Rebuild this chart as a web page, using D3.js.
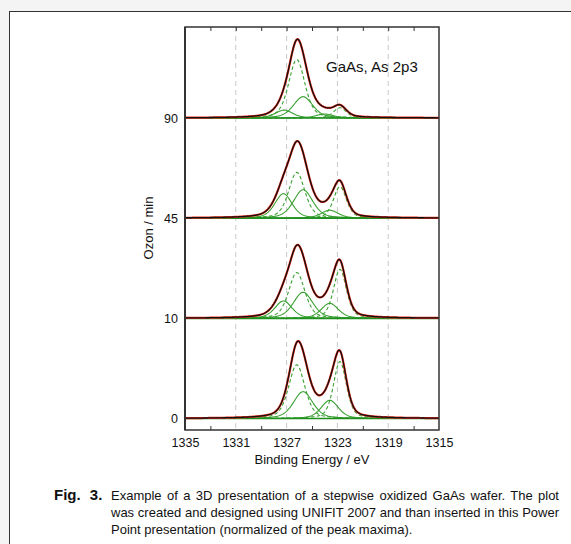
<!DOCTYPE html>
<html><head><meta charset="utf-8">
<script src="https://cdn.jsdelivr.net/npm/d3@7"></script>
<style>
html,body{margin:0;padding:0;background:#f4f4f4;}
svg{display:block;font-family:"Liberation Sans",Arial,sans-serif;}
</style></head>
<body>
<svg id="c" width="571" height="544"></svg>
<script>
// ---- data ----
const panels = ["0", "10", "45", "90"];            // ozone time / min
const xTicks = [1335, 1331, 1327, 1323, 1319, 1315]; // binding energy labels
const xMinor = [1333, 1329, 1325, 1321, 1317];
const xGrid  = [1331, 1327, 1323, 1319];
// component parameters per panel: centre (eV), height (normalised), FWHM (eV), dashed?
const comp0  = [[1326.2, 0.68, 1.5, 1], [1325.7, 0.34, 1.8, 0], [1323.6, 0.23, 1.6, 0], [1322.8, 0.72, 1.2, 1]];
const comp10 = [[1327.25, 0.22, 1.6, 0], [1326.2, 0.58, 1.5, 1], [1325.7, 0.33, 1.8, 0], [1323.6, 0.19, 1.6, 0], [1322.8, 0.62, 1.2, 1]];
const comp45 = [[1327.25, 0.31, 1.6, 0], [1326.2, 0.58, 1.5, 1], [1325.7, 0.36, 1.8, 0], [1323.6, 0.10, 1.6, 0], [1322.8, 0.40, 1.2, 1]];
const comp90 = [[1327.2, 0.10, 1.6, 0], [1326.2, 0.74, 1.5, 1], [1325.7, 0.27, 1.8, 0], [1324.0, 0.05, 1.6, 0], [1322.8, 0.13, 1.2, 1]];
const components = {"0": comp0, "10": comp10, "45": comp45, "90": comp90};
const lorentzFraction = 0.4;

// ---- layout ----
const svg = d3.select("#c");
svg.append("rect").attr("x", 9.5).attr("y", 11.5).attr("width", 600).attr("height", 600)
  .attr("fill", "#fff").attr("stroke", "#333").attr("stroke-width", 1);

const L = 185, R = 439, T = 27, B = 430;
const x = d3.scaleLinear().domain([1335, 1315]).range([L, R]);
const yBase = d3.scalePoint().domain(panels).range([418.5, 118]);
const ampPx = 79;

function pv(e, c) {
  const t = 4 * (e - c[0]) * (e - c[0]) / (c[2] * c[2]);
  return c[1] * (lorentzFraction / (1 + t) + (1 - lorentzFraction) * Math.exp(-Math.LN2 * t));
}
const energies = d3.range(1335, 1314.99, -0.05);

const g = svg.append("g");
// grid
g.selectAll(".grid").data(xGrid).join("line")
  .attr("x1", d => x(d)).attr("x2", d => x(d)).attr("y1", T).attr("y2", B)
  .attr("stroke", "#c8c8c8").attr("stroke-width", 1).attr("stroke-dasharray", "5,4");

svg.append("clipPath").attr("id", "pc").append("rect")
  .attr("x", L).attr("y", T).attr("width", R - L).attr("height", B - T);
const plot = g.append("g").attr("clip-path", "url(#pc)");

panels.forEach(p => {
  const y0 = yBase(p);
  const y = d3.scaleLinear().domain([0, 1]).range([y0, y0 - ampPx]);
  const comps = components[p];
  const line = d3.line().x(d => x(d[0])).y(d => y(d[1]));
  comps.forEach(c => {
    plot.append("path").datum(energies.map(e => [e, pv(e, c)]))
      .attr("d", line).attr("fill", "none").attr("stroke", "#38a030")
      .attr("stroke-width", 1.1).attr("stroke-dasharray", c[3] ? "3.5,2.5" : null);
  });
  plot.append("path").datum([[1335, 0], [1315, 0]]).attr("d", line)
    .attr("fill", "none").attr("stroke", "#1f8f1f").attr("stroke-width", 1.6);
  const env = energies.map(e => [e, d3.sum(comps, c => pv(e, c))]);
  plot.append("path").datum(env).attr("d", line).attr("fill", "none")
    .attr("stroke", "#f02818").attr("stroke-width", 2.2);
  plot.append("path").datum(env).attr("d", line).attr("fill", "none")
    .attr("stroke", "#111").attr("stroke-width", 1.3);
});

// frame
g.append("rect").attr("x", L).attr("y", T).attr("width", R - L).attr("height", B - T)
  .attr("fill", "none").attr("stroke", "#333").attr("stroke-width", 1.5);
g.append("line").attr("x1", L).attr("x2", L).attr("y1", T).attr("y2", B)
  .attr("stroke", "#333").attr("stroke-width", 2);

// axes
const axB = g.append("g").attr("transform", `translate(0,${B})`)
  .call(d3.axisBottom(x).tickValues(xTicks).tickSize(0).tickPadding(8).tickFormat(d3.format("d")));
axB.select(".domain").remove();
axB.selectAll("text").attr("font-size", 12.5).attr("fill", "#111").attr("font-family", "Liberation Sans, Arial, sans-serif");
const minorB = g.append("g").attr("transform", `translate(0,${B})`)
  .call(d3.axisBottom(x).tickValues(xMinor).tickSize(-4).tickFormat(""));
minorB.select(".domain").remove();
minorB.selectAll("line").attr("stroke", "#333");
const minorT = g.append("g").attr("transform", `translate(0,${T})`)
  .call(d3.axisTop(x).tickValues(xMinor.concat(xGrid)).tickSize(-4).tickFormat(""));
minorT.select(".domain").remove();
minorT.selectAll("line").attr("stroke", "#333");

const axL = g.append("g").attr("transform", `translate(${L},0)`)
  .call(d3.axisLeft(yBase).tickSize(0).tickPadding(7));
axL.select(".domain").remove();
axL.selectAll("text").attr("font-size", 12.5).attr("fill", "#111").attr("font-family", "Liberation Sans, Arial, sans-serif");

// titles
svg.append("text").attr("x", (L + R) / 2).attr("y", 464).attr("text-anchor", "middle")
  .attr("font-size", 13).attr("fill", "#111").text("Binding Energy / eV");
svg.append("text").attr("transform", "translate(153,228) rotate(-90)").attr("text-anchor", "middle")
  .attr("font-size", 13).attr("fill", "#111").text("Ozon / min");
svg.append("text").attr("x", 326).attr("y", 72).attr("font-size", 15).attr("fill", "#111").text("GaAs, As 2p3");

// caption
const capLines = [
  "Example of a 3D presentation of a stepwise oxidized GaAs wafer. The plot",
  "was created and designed using UNIFIT 2007 and than inserted in this Power",
  "Point presentation (normalized of the peak maxima)."
];
svg.append("text").attr("x", 54).attr("y", 500).attr("font-size", 15).attr("font-weight", "bold")
  .attr("word-spacing", 5).attr("fill", "#111").text("Fig. 3.");
capLines.forEach((s, i) => {
  const t = svg.append("text").attr("x", 111).attr("y", 500 + i * 17).attr("font-size", 13)
    .attr("fill", "#111").text(s);
  if (i < 2) {
    const w = t.node().getComputedTextLength();
    const gaps = s.split(" ").length - 1;
    t.attr("word-spacing", (559 - 111 - w) / gaps);
  }
});
</script>
</body></html>
